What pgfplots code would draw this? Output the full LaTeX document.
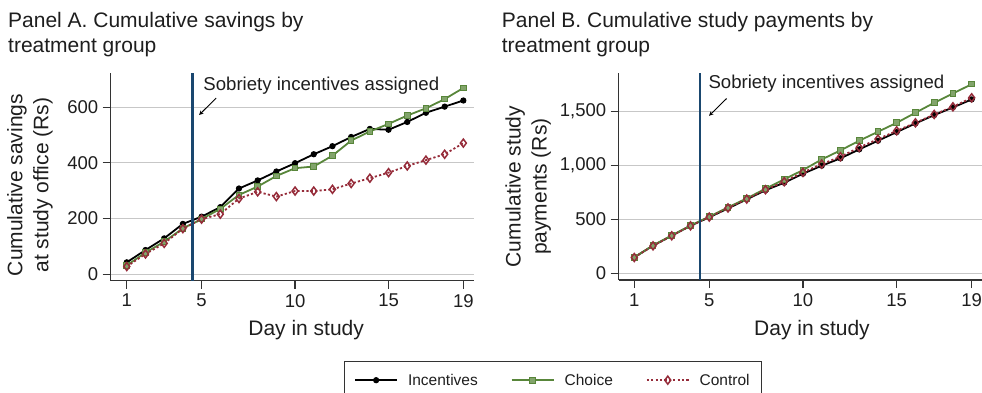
\documentclass[border=0pt]{standalone}
\usepackage{fontspec}
\setmainfont{Liberation Sans}
\usepackage{pgfplots}
\pgfplotsset{compat=1.18}
\definecolor{navyS}{RGB}{26,71,111}
\definecolor{grnS}{RGB}{88,134,58}
\definecolor{redS}{RGB}{150,44,58}
\definecolor{txt}{RGB}{30,30,30}
\pgfplotsset{
  common/.style={
    scale only axis, width=363.3pt, height=207.5pt,
    axis lines*=left,
    axis line style={draw=black!80, line width=1.2pt},
    tick align=outside, major tick length=8pt,
    every tick/.style={draw=black!80, line width=1.2pt},
    ymajorgrids, grid style={draw=black!22, line width=1pt},
    xtick={1,5,10,15,19},
    tick label style={font=\fontsize{18.5}{20}\selectfont, text=txt},
    /pgf/number format/assume math mode=true,
    /pgf/number format/1000 sep={,},
    xticklabel style={yshift=-2pt},
    yticklabel style={xshift=-1pt},
    label style={font=\fontsize{21}{26}\selectfont, text=txt},
    ylabel style={align=center, anchor=center, rotate=0},
    xlabel style={anchor=center},
    clip=false,
  },
  incS/.style={black, line width=1.8pt, mark=*, mark size=2.6pt, mark options={solid, line width=1pt}},
  choS/.style={grnS, line width=1.8pt, mark=square*, mark size=2.8pt, mark options={solid, line width=1pt, fill=grnS!75!white, draw=grnS}},
  conS/.style={redS, line width=1.8pt, dash pattern=on 2.2pt off 2.2pt, mark=diamond, mark size=4pt, mark options={solid, line width=1.5pt, fill=white}},
}
\begin{document}
\begin{tikzpicture}[x=1pt,y=1pt]
\useasboundingbox (0,0) rectangle (982,392);
\node[anchor=base west, font=\fontsize{21}{25}\selectfont, text=txt, inner sep=0pt] at (8,364) {Panel A. Cumulative savings by};
\node[anchor=base west, font=\fontsize{21}{25}\selectfont, text=txt, inner sep=0pt] at (8,340) {treatment group};
\node[anchor=base west, font=\fontsize{21}{25}\selectfont, text=txt, inner sep=0pt] at (501.7,364) {Panel B. Cumulative study payments by};
\node[anchor=base west, font=\fontsize{21}{25}\selectfont, text=txt, inner sep=0pt] at (501.7,340) {treatment group};

\begin{axis}[common, at={(110.7pt,111.3pt)}, anchor=south west,
  xmin=0.14, xmax=19.57, ymin=-23, ymax=722,
  ytick={0,200,400,600},
  xlabel={Day in study}, ylabel={Cumulative savings\\at study office (Rs)},
  xlabel style={at={(axis description cs:0.538,-0.238)}},
  ylabel style={at={(axis description cs:-0.222,0.461)}},
]
\addplot[incS] coordinates {(1,43)(2,87)(3,129)(4,181)(5,207)(6,241)(7,308)(8,337)(9,369)(10,399)(11,431)(12,460)(13,493)(14,522)(15,519)(16,547)(17,580)(18,602)(19,624)};
\addplot[choS] coordinates {(1,32)(2,78)(3,117)(4,165)(5,198)(6,235)(7,285)(8,315)(9,353)(10,381)(11,387)(12,426)(13,480)(14,513)(15,540)(16,570)(17,596)(18,629)(19,669)};
\addplot[conS] coordinates {(1,28)(2,73)(3,111)(4,164)(5,198)(6,216)(7,272)(8,296)(9,279)(10,299)(11,299)(12,305)(13,326)(14,345)(15,365)(16,389)(17,410)(18,431)(19,471)};
\addplot[navyS, line width=2.6pt, forget plot] coordinates {(4.5,-23) (4.5,722)};
\node[anchor=west, font=\fontsize{18.6}{20}\selectfont, text=txt, inner sep=0pt] at (axis cs:5.09,676) {Sobriety incentives assigned};
\draw[-stealth, line width=0.9pt, black] (axis cs:5.78,633) -- (axis cs:4.87,572);
\end{axis}

\begin{axis}[common, at={(618.7pt,112pt)}, anchor=south west,
  xmin=0.17, xmax=19.55, ymin=-62, ymax=1857,
  ytick={0,500,1000,1500},
  xlabel={Day in study}, ylabel={Cumulative study\\payments (Rs)},
  xlabel style={at={(axis description cs:0.532,-0.24)}},
  ylabel style={at={(axis description cs:-0.249,0.45)}},
  legend columns=3,
  legend style={at={(axis description cs:-0.181,-0.3886)}, anchor=north,
    draw=black!80, inner xsep=10pt, inner ysep=11pt,
    font=\fontsize{15.5}{18}\selectfont, text=txt,
    /tikz/every odd column/.append style={column sep=8pt},
    /tikz/every even column/.append style={column sep=31pt}},
  legend image code/.code={
    \draw[#1, mark=none, line width=1.8pt] (0pt,0pt) -- (42pt,0pt);
    \draw[#1, line width=1pt] plot[only marks] coordinates {(21pt,0pt)};},
]
\addplot[incS] coordinates {(1,148)(2,256)(3,348)(4,440)(5,518)(6,600)(7,684)(8,768)(9,838)(10,921)(11,995)(12,1063)(13,1146)(14,1226)(15,1306)(16,1386)(17,1463)(18,1534)(19,1608)};
\addlegendentry{Incentives}
\addplot[choS] coordinates {(1,148)(2,258)(3,350)(4,442)(5,524)(6,610)(7,693)(8,782)(9,869)(10,955)(11,1053)(12,1137)(13,1226)(14,1309)(15,1392)(16,1485)(17,1577)(18,1663)(19,1749)};
\addlegendentry{Choice}
\addplot[conS] coordinates {(1,146)(2,254)(3,347)(4,439)(5,520)(6,604)(7,687)(8,773)(9,847)(10,933)(11,1010)(12,1078)(13,1164)(14,1241)(15,1318)(16,1392)(17,1469)(18,1540)(19,1623)};
\addlegendentry{Control}
\addplot[navyS, line width=2.6pt, forget plot] coordinates {(4.5,-62) (4.5,1857)};
\node[anchor=west, font=\fontsize{18.6}{20}\selectfont, text=txt, inner sep=0pt] at (axis cs:4.95,1756) {Sobriety incentives assigned};
\draw[-stealth, line width=0.9pt, black] (axis cs:5.93,1617) -- (axis cs:4.99,1457);
\end{axis}
\end{tikzpicture}
\end{document}
